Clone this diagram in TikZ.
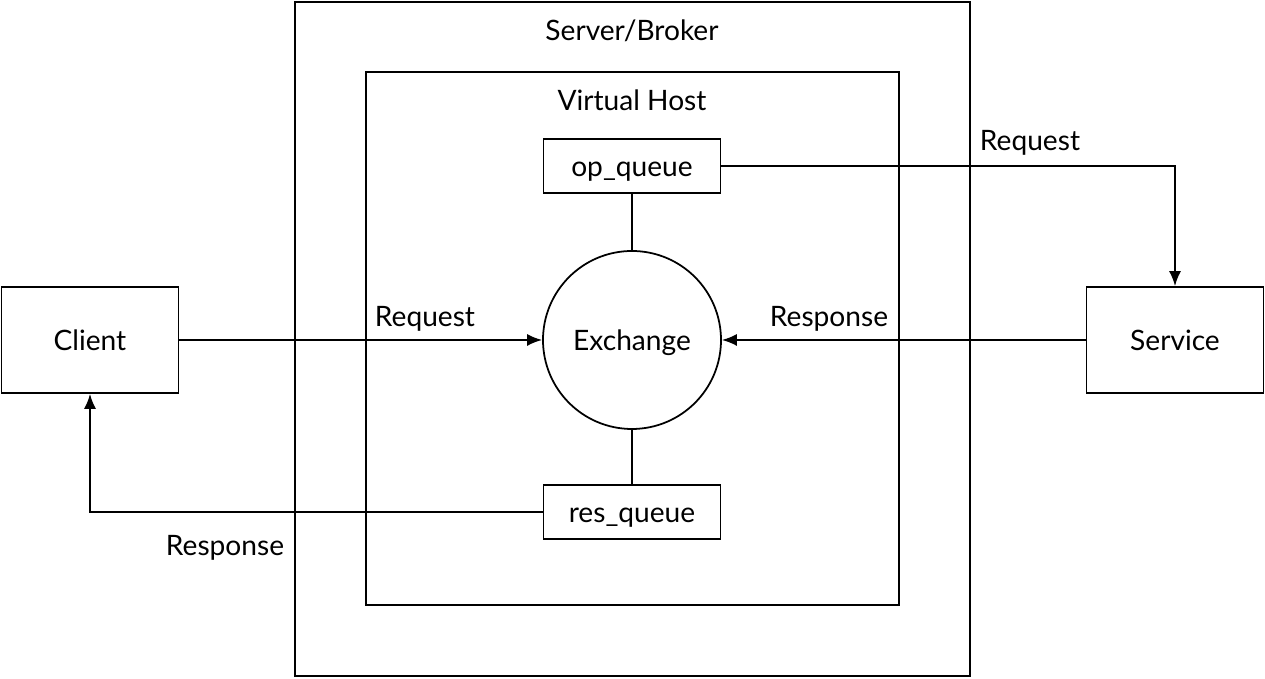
\documentclass[tikz,border=0pt]{standalone}
\usepackage{fontspec}
\setmainfont{Lato}
\usetikzlibrary{arrows.meta}
\usetikzlibrary{positioning}
\tikzset{box/.style = {draw, minimum width = 3.54cm, minimum height = 1.08cm, inner sep = 0}}
\tikzset{endpoint/.style = {draw, minimum width = 3.54cm, minimum height = 2.12cm, inner sep = 0}}
\tikzset{lbl/.style = {inner sep = 0}}

\begin{document}
\begin{tikzpicture}[line width = 1pt, >={Latex[length = 0.3cm, width = 0.24cm]},
    font = \fontsize{16}{19}\selectfont,
    every node/.append style = {text height = 12pt, text depth = 0pt}]
    \useasboundingbox (0, 0) rectangle (25.3, 13.58);

    \draw (5.9, 0.06) rectangle (19.4, 13.54);
    \node [lbl] (broker) at (12.64, 12.98) {Server/Broker};
    \draw (7.32, 1.48) rectangle (17.98, 12.14);
    \node [lbl] (vhost) at (12.64, 11.58) {Virtual Host};

    \node [draw, circle, minimum size = 3.56cm, inner sep = 0] (exchange) at (12.64, 6.78) {Exchange};
    \node [box] (opq) at (12.64, 10.26) {op\_queue};
    \node [box] (resq) at (12.64, 3.34) {res\_queue};

    \node [endpoint] (client) at (1.8, 6.78) {Client};
    \node [endpoint] (service) at (23.5, 6.78) {Service};

    \draw [->] (client) -- (exchange);
    \node [lbl] (req1) at (8.5, 7.26) {Request};
    \draw [->] (service) -- (exchange);
    \node [lbl] (res1) at (16.58, 7.26) {Response};

    \draw (opq) -- (exchange);
    \draw (exchange) -- (resq);

    \draw [->] (opq.east) -| (service.north);
    \node [lbl] (req2) at (20.6, 10.78) {Request};
    \draw [->] (resq.west) -| (client.south);
    \node [lbl] (res2) at (4.5, 2.68) {Response};
\end{tikzpicture}
\end{document}
